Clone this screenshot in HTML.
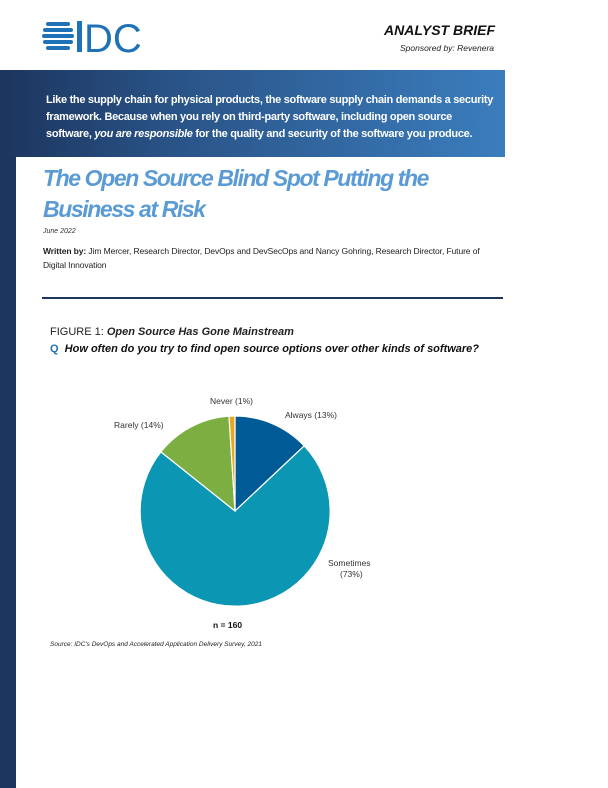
<!DOCTYPE html><html><head><style>
body{margin:0;width:608px;height:788px;position:relative;background:#fff;font-family:"Liberation Sans",sans-serif;overflow:hidden}
.a{position:absolute;white-space:nowrap}
</style></head><body>
<div class="a" style="left:0;top:157px;width:16px;height:631px;background:#1c355e"></div>
<div class="a" style="left:0;top:70px;width:505px;height:87px;background:linear-gradient(90deg,#1c355e 0%,#2a5488 35%,#3b7dbd 100%)"></div>
<svg class="a" style="left:42px;top:19px" width="100" height="36">
<g fill="#1f72b8"><rect x="4" y="3" width="24" height="4" rx="2"/><rect x="1" y="9" width="30" height="4" rx="2"/><rect x="0" y="15" width="32" height="4" rx="2"/><rect x="1" y="21" width="30" height="4" rx="2"/><rect x="4" y="27" width="24" height="4" rx="2"/>
<rect x="35" y="2" width="5" height="31"/></g>
<text x="42" y="33" font-family="Liberation Sans" font-size="40" fill="#1f72b8">DC</text></svg>
<div class="a" style="right:113px;top:22px;font-size:14px;font-weight:bold;font-style:italic;color:#111">ANALYST BRIEF</div>
<div class="a" style="right:114px;top:43px;font-size:8.5px;font-style:italic;color:#222">Sponsored by: Revenera</div>
<div class="a" style="left:46px;top:92px;font-size:11px;line-height:17px;color:#fff;font-weight:bold;letter-spacing:-0.3px">Like the supply chain for physical products, the software supply chain demands a security<br>framework. Because when you rely on third-party software, including open source<br>software, <i>you are responsible</i> for the quality and security of the software you produce.</div>
<div class="a" style="left:43px;top:163px;font-size:23px;line-height:31px;font-weight:bold;font-style:italic;color:#5b9bd5;letter-spacing:-1.4px">The Open Source Blind Spot Putting the<br>Business at Risk</div>
<div class="a" style="left:43px;top:228px;font-size:7px;font-style:italic;color:#333">June 2022</div>
<div class="a" style="left:43px;top:244px;font-size:8.5px;line-height:14px;color:#222;letter-spacing:-0.1px"><b>Written by:</b> Jim Mercer, Research Director, DevOps and DevSecOps and Nancy Gohring, Research Director, Future of<br>Digital Innovation</div>
<div class="a" style="left:42px;top:297px;width:461px;height:2px;background:#1c355e"></div>
<div class="a" style="left:50px;top:326px;font-size:11px;color:#222">FIGURE 1: <b><i>Open Source Has Gone Mainstream</i></b></div>
<div class="a" style="left:50px;top:343px;font-size:11px;color:#111;font-weight:bold;font-style:italic"><span style="color:#1f72b8;font-style:normal">Q</span>&nbsp; How often do you try to find open source options over other kinds of software?</div>
<svg class="a" style="left:0;top:380px" width="608" height="280">
<g stroke="#fff" stroke-width="1.2">
<path d="M235 131 L235 36 A95 95 0 0 1 304.2 65.9 Z" fill="#005a96"/>
<path d="M235 131 L304.2 65.9 A95 95 0 1 1 160.9 71.9 Z" fill="#0b96b3"/>
<path d="M235 131 L160.9 71.9 A95 95 0 0 1 229 36.2 Z" fill="#7cae42"/>
<path d="M235 131 L229 36.2 A95 95 0 0 1 235 36 Z" fill="#e8a823"/>
</g>
<g font-family="Liberation Sans" font-size="8.5" fill="#333">
<text x="210" y="24">Never (1%)</text>
<text x="285" y="38">Always (13%)</text>
<text x="114" y="48">Rarely (14%)</text>
<text x="328" y="186">Sometimes</text>
<text x="340" y="197">(73%)</text>
<text x="213" y="248" font-weight="bold" fill="#111">n = 160</text>
</g></svg>
<div class="a" style="left:50px;top:641px;font-size:6.5px;font-style:italic;color:#222">Source: IDC's DevOps and Accelerated Application Delivery Survey, 2021</div>
</body></html>
